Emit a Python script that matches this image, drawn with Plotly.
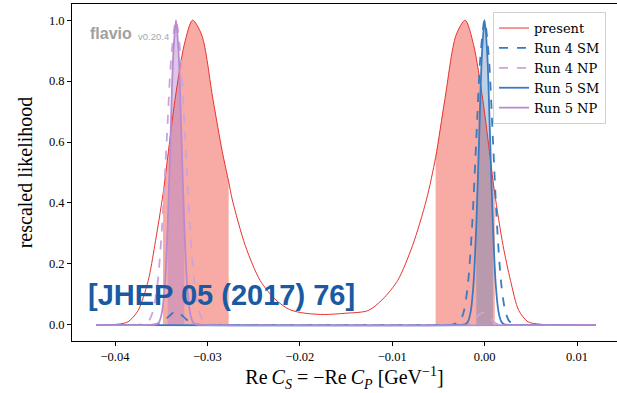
import plotly.graph_objects as go

# ---------------- data ----------------
present_x = [-0.042, -0.0397, -0.0386, -0.0375, -0.0364, -0.0357, -0.0348, -0.0343, -0.0335,
             -0.0325, -0.0316, -0.0306, -0.0294, -0.0284, -0.0277, -0.0273, -0.0259, -0.0243,
             -0.0227, -0.0211, -0.0194, -0.0173, -0.0151, -0.0126, -0.0110, -0.0094, -0.0078,
             -0.0063, -0.0053, -0.0043, -0.0031, -0.0021, -0.0012, -0.0002, 0.0006, 0.0011,
             0.0020, 0.0028, 0.0037, 0.0047, 0.0060, 0.0080, 0.012]
present_y = [0.0, 0.002, 0.01, 0.047, 0.146, 0.26, 0.43, 0.55, 0.74,
             0.92, 1.0, 0.95, 0.74, 0.57, 0.47, 0.41, 0.26, 0.146,
             0.085, 0.05, 0.038, 0.034, 0.038, 0.047, 0.085, 0.146, 0.26,
             0.41, 0.55, 0.74, 0.95, 1.0, 0.92, 0.74, 0.55, 0.43,
             0.26, 0.146, 0.047, 0.01, 0.002, 0.0, 0.0]
present_intervals = [(-0.0348, -0.0277), (-0.0053, 0.0011)]

run4sm_x = [-0.042, -0.0366, -0.0358, -0.0350, -0.0342, -0.0334, -0.0326, -0.0318, -0.0310, -0.0302,
            -0.0045, -0.0036, -0.0027, -0.00225, -0.0018, -0.00135, -0.0009, -0.00045, 0.0,
            0.00045, 0.0009, 0.00135, 0.0018, 0.00225, 0.0027, 0.0036, 0.0045, 0.012]
run4sm_y = [0.0, 0.0, 0.0005, 0.006, 0.027, 0.045, 0.027, 0.006, 0.0005, 0.0,
            0.0, 0.0003, 0.011, 0.044, 0.135, 0.325, 0.607, 0.882, 1.0,
            0.882, 0.607, 0.325, 0.135, 0.044, 0.011, 0.0003, 0.0, 0.0]

run4np_x = [-0.042, -0.0384, -0.0374, -0.0364, -0.0359, -0.0354, -0.0349, -0.0344, -0.0339, -0.0334,
            -0.0329, -0.0324, -0.0319, -0.0314, -0.0309, -0.0304, -0.0294, -0.0284,
            -0.0030, -0.0023, -0.0016, -0.0009, -0.0002, 0.0005, 0.0012, 0.0019, 0.0026, 0.012]
run4np_y = [0.0, 0.0, 0.0003, 0.011, 0.044, 0.135, 0.325, 0.607, 0.882, 1.0,
            0.882, 0.607, 0.325, 0.135, 0.044, 0.011, 0.0003, 0.0,
            0.0, 0.0004, 0.0054, 0.024, 0.04, 0.024, 0.0054, 0.0004, 0.0, 0.0]

run5sm_x = [-0.042, -0.0028, -0.0021, -0.0018, -0.0015, -0.0012, -0.0009, -0.0006, -0.0003, 0.0,
            0.0003, 0.0006, 0.0009, 0.0012, 0.0015, 0.0018, 0.0021, 0.0028, 0.012]
run5sm_y = [0.0, 0.0, 0.002, 0.011, 0.044, 0.135, 0.325, 0.607, 0.882, 1.0,
            0.882, 0.607, 0.325, 0.135, 0.044, 0.011, 0.002, 0.0, 0.0]
run5sm_interval = (-0.0009, 0.0009)

run5np_x = [-0.042, -0.0362, -0.0355, -0.0352, -0.0349, -0.0346, -0.0343, -0.0340, -0.0337, -0.0334,
            -0.0331, -0.0328, -0.0325, -0.0322, -0.0319, -0.0316, -0.0313, -0.0306, 0.012]
run5np_y = [0.0, 0.0, 0.002, 0.011, 0.044, 0.135, 0.325, 0.607, 0.882, 1.0,
            0.882, 0.607, 0.325, 0.135, 0.044, 0.011, 0.002, 0.0, 0.0]
run5np_interval = (-0.0343, -0.0325)

x_tickvals = [-0.04, -0.03, -0.02, -0.01, 0.0, 0.01]
x_ticktext = ["\u22120.04", "\u22120.03", "\u22120.02", "\u22120.01", "0.00", "0.01"]
y_tickvals = [0.0, 0.2, 0.4, 0.6, 0.8, 1.0]
y_ticktext = ["0.0", "0.2", "0.4", "0.6", "0.8", "1.0"]

# ---------------- styles ----------------
RED = "#e8332f"
RED_FILL = "#f8aba5"
BLUE = "#3a7bbf"
BLUE_FILL = "rgba(70,120,185,0.35)"
PURPLE = "#b98ad0"
PURPLE_LIGHT = "#cda3dc"
PURPLE_FILL = "rgba(175,130,205,0.45)"
SERIF = "Liberation Serif, DejaVu Serif, serif"
LEG_SERIF = "DejaVu Serif, Liberation Serif, serif"

def sub(xs, ys, lo, hi):
    pts = [(a, b) for a, b in zip(xs, ys) if lo - 1e-12 <= a <= hi + 1e-12]
    return [p[0] for p in pts], [p[1] for p in pts]

fig = go.Figure()

# fills
for lo, hi in present_intervals:
    fx, fy = sub(present_x, present_y, lo, hi)
    fig.add_trace(go.Scatter(x=fx, y=fy, mode="lines", fill="tozeroy", fillcolor=RED_FILL,
                             line=dict(width=0, shape="spline", smoothing=0.8),
                             showlegend=False, hoverinfo="skip"))
fx, fy = sub(run5sm_x, run5sm_y, *run5sm_interval)
fig.add_trace(go.Scatter(x=fx, y=fy, mode="lines", fill="tozeroy", fillcolor=BLUE_FILL,
                         line=dict(width=0, shape="spline", smoothing=0.8),
                         showlegend=False, hoverinfo="skip"))
fx, fy = sub(run5np_x, run5np_y, *run5np_interval)
fig.add_trace(go.Scatter(x=fx, y=fy, mode="lines", fill="tozeroy", fillcolor=PURPLE_FILL,
                         line=dict(width=0, shape="spline", smoothing=0.8),
                         showlegend=False, hoverinfo="skip"))

# lines
fig.add_trace(go.Scatter(x=present_x, y=present_y, mode="lines", name="present",
                         line=dict(color=RED, width=1, shape="spline", smoothing=0.8)))
fig.add_trace(go.Scatter(x=run4sm_x, y=run4sm_y, mode="lines", name="Run 4 SM",
                         line=dict(color=BLUE, width=1.8, dash="dash", shape="spline", smoothing=0.8)))
fig.add_trace(go.Scatter(x=run4np_x, y=run4np_y, mode="lines", name="Run 4 NP",
                         line=dict(color=PURPLE_LIGHT, width=1.8, dash="dash", shape="spline", smoothing=0.8)))
fig.add_trace(go.Scatter(x=run5sm_x, y=run5sm_y, mode="lines", name="Run 5 SM",
                         line=dict(color=BLUE, width=1.8, shape="spline", smoothing=0.8)))
fig.add_trace(go.Scatter(x=run5np_x, y=run5np_y, mode="lines", name="Run 5 NP",
                         line=dict(color=PURPLE, width=1.8, shape="spline", smoothing=0.8)))

fig.add_annotation(x=0.0294, y=0.911, xref="paper", yref="paper", xanchor="left", yanchor="middle",
                   text="<b>flavio</b>", showarrow=False,
                   font=dict(family="Liberation Sans, Arial, sans-serif", size=16, color="#a0a0a0"))
fig.add_annotation(x=0.1174, y=0.905, xref="paper", yref="paper", xanchor="left", yanchor="middle",
                   text="v0.20.4", showarrow=False,
                   font=dict(family="Liberation Sans, Arial, sans-serif", size=9.5, color="#a8a8a8"))
fig.add_annotation(x=0.2743, y=0.1365, xref="paper", yref="paper", xanchor="center", yanchor="middle",
                   text="<b>[JHEP 05 (2017) 76]</b>", showarrow=False,
                   font=dict(family="Liberation Sans, Arial, sans-serif", size=29, color="#1a5aa3"))

fig.update_layout(
    width=617, height=393,
    margin=dict(l=72, r=0, t=4, b=52),
    paper_bgcolor="white", plot_bgcolor="white",
    font=dict(family=SERIF, color="black"),
    legend=dict(x=0.7725, y=0.976, xanchor="left", yanchor="top",
                bgcolor="white", bordercolor="#d0d0d0", borderwidth=1,
                font=dict(family=LEG_SERIF, size=13, color="black")),
    xaxis=dict(range=[-0.044654, 0.014329], tickvals=x_tickvals, ticktext=x_ticktext,
               showgrid=False, zeroline=False, showline=True, linecolor="black", linewidth=1,
               mirror=True, ticks="outside", ticklen=4, tickcolor="black",
               tickfont=dict(family=SERIF, size=12.5),
               title=dict(text="Re\u2009<i>C<sub>S</sub></i> = \u2212Re\u2009<i>C<sub>P</sub></i> [GeV<sup>\u22121</sup>]",
                          font=dict(family=SERIF, size=20), standoff=4)),
    yaxis=dict(range=[-0.053, 1.053], tickvals=y_tickvals, ticktext=y_ticktext,
               showgrid=False, zeroline=False, showline=True, linecolor="black", linewidth=1,
               mirror=False, ticks="outside", ticklen=4, tickcolor="black",
               tickfont=dict(family=SERIF, size=12.5),
               title=dict(text="rescaled likelihood", font=dict(family=SERIF, size=20), standoff=10)),
)

fig.write_html("out.html")
